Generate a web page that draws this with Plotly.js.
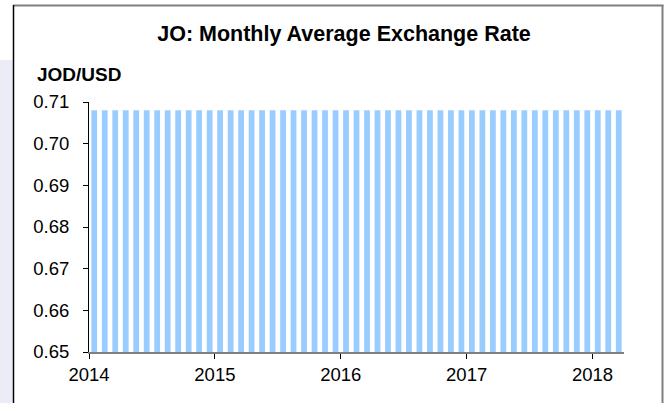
<!DOCTYPE html>
<html>
<head>
<meta charset="utf-8">
<script src="https://cdn.plot.ly/plotly-3.0.1.min.js"></script>
<style>html,body{margin:0;padding:0;background:#fff;}#chart{width:669px;height:403px;}</style>
</head>
<body>
<div id="chart"></div>
<script>
// Data
var months = [
  "2014-01","2014-02","2014-03","2014-04","2014-05","2014-06","2014-07","2014-08","2014-09","2014-10","2014-11","2014-12",
  "2015-01","2015-02","2015-03","2015-04","2015-05","2015-06","2015-07","2015-08","2015-09","2015-10","2015-11","2015-12",
  "2016-01","2016-02","2016-03","2016-04","2016-05","2016-06","2016-07","2016-08","2016-09","2016-10","2016-11","2016-12",
  "2017-01","2017-02","2017-03","2017-04","2017-05","2017-06","2017-07","2017-08","2017-09","2017-10","2017-11","2017-12",
  "2018-01","2018-02","2018-03"
];
var rates = [
  0.708,0.708,0.708,0.708,0.708,0.708,0.708,0.708,0.708,0.708,0.708,0.708,
  0.708,0.708,0.708,0.708,0.708,0.708,0.708,0.708,0.708,0.708,0.708,0.708,
  0.708,0.708,0.708,0.708,0.708,0.708,0.708,0.708,0.708,0.708,0.708,0.708,
  0.708,0.708,0.708,0.708,0.708,0.708,0.708,0.708,0.708,0.708,0.708,0.708,
  0.708,0.708,0.708
];
var yearTicks = [2014, 2015, 2016, 2017, 2018];
var yearLabels = ["2014", "2015", "2016", "2017", "2018"];
var titleText = "JO: Monthly Average Exchange Rate";
var unitText = "JOD/USD";

// month string -> decimal-year position at the middle of the month
var xpos = months.map(function (m) {
  var p = m.split("-");
  return parseInt(p[0], 10) + (parseInt(p[1], 10) - 0.5) / 12;
});

var W = 669, H = 403;
var L = 89, R = 45, T = 102, B = 51;
var pw = W - L - R, ph = H - T - B;
function px(x) { return (x - L) / pw; }
function py(y) { return (H - B - y) / ph; }

var font = "Liberation Sans, Arial, sans-serif";

var trace = {
  type: "bar",
  x: xpos,
  y: rates,
  marker: { color: "#99CCFF", line: { width: 0 } },
  hoverinfo: "x+y"
};

var layout = {
  width: W, height: H,
  margin: { l: L, r: R, t: T, b: B, pad: 0 },
  paper_bgcolor: "#ffffff",
  plot_bgcolor: "#ffffff",
  showlegend: false,
  bargap: 0.45,
  font: { family: font, color: "#000", size: 18 },
  title: {
    text: "<b>" + titleText + "</b>",
    font: { family: font, size: 21.5, color: "#000" },
    x: 344 / W, xref: "container", xanchor: "center",
    y: 1 - 33.5 / H, yref: "container", yanchor: "middle"
  },
  xaxis: {
    range: [2014, 2018.25],
    tickmode: "array", tickvals: yearTicks, ticktext: yearLabels,
    ticks: "outside", ticklen: 5, tickwidth: 1, tickcolor: "#000",
    showline: true, linecolor: "#808080", linewidth: 2,
    showgrid: false, zeroline: false,
    tickfont: { family: font, size: 18.5, color: "#000" },
    fixedrange: true
  },
  yaxis: {
    range: [0.65, 0.71],
    tickmode: "linear", tick0: 0.65, dtick: 0.01, tickformat: ".2f",
    ticks: "outside", ticklen: 5, tickwidth: 1, tickcolor: "#000",
    ticklabelstandoff: 10,
    showline: true, linecolor: "#000", linewidth: 1,
    showgrid: false, zeroline: false,
    tickfont: { family: font, size: 18.5, color: "#000" },
    fixedrange: true
  },
  annotations: [{
    text: "<b>" + unitText + "</b>",
    xref: "paper", yref: "paper",
    x: px(35), y: py(75), xanchor: "left", yanchor: "middle",
    showarrow: false,
    font: { family: font, size: 19, color: "#000" }
  }],
  shapes: [
    { type: "rect", xref: "paper", yref: "paper", layer: "below",
      x0: px(-5), x1: px(12.8), y0: py(H + 5), y1: py(60),
      fillcolor: "#ECECF7", line: { width: 0 } },
    { type: "line", xref: "paper", yref: "paper",
      x0: px(13), x1: px(663.5), y0: py(5.5), y1: py(5.5),
      line: { color: "#808080", width: 2 } },
    { type: "line", xref: "paper", yref: "paper",
      x0: px(662.5), x1: px(662.5), y0: py(5), y1: py(H + 5),
      line: { color: "#808080", width: 2 } },
    { type: "line", xref: "paper", yref: "paper",
      x0: px(13.5), x1: px(13.5), y0: py(5), y1: py(H + 5),
      line: { color: "#000000", width: 1.5 } }
  ]
};

Plotly.newPlot("chart", [trace], layout, { staticPlot: true, displayModeBar: false });
</script>
</body>
</html>
